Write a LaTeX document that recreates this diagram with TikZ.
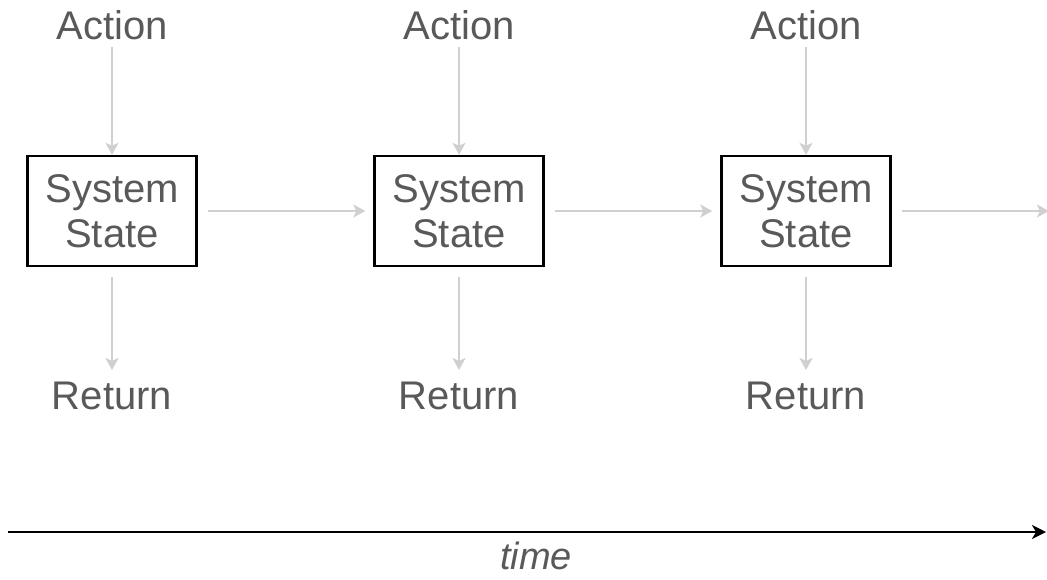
\documentclass[tikz,border=0pt]{standalone}
\usepackage{fontspec}
\setmainfont{Liberation Sans}
\usetikzlibrary{arrows.meta}
\definecolor{txt}{HTML}{595959}
\definecolor{conn}{HTML}{D0D0D0}
\begin{document}
\begin{tikzpicture}[x=1pt,y=-1pt,
  lbl/.style={text=txt,font=\fontsize{40}{44}\selectfont,inner sep=0pt},
  statebox/.style={draw=black,line width=2.4pt,minimum width=169pt,minimum height=110pt,align=center,text=txt,inner sep=0pt,font=\fontsize{40}{45}\selectfont},
  conn/.style={draw=conn,line width=2.6pt,-{Stealth[length=12pt,width=13pt,inset=3pt]}},
  tline/.style={draw=black,line width=2.4pt,-{Stealth[length=14pt,width=14pt,inset=4pt]}}]
\useasboundingbox (0,0) rectangle (1047,579);
\foreach \i/\x in {1/112,2/459,3/806}{
  \node[statebox] (s\i) at (\x,211) {System\\State};
  \node[lbl] (a\i) at (\x,25) {Action};
  \node[lbl] (r\i) at (\x,396) {Return};
  \draw[conn] (\x,47) -- (s\i.north);
  \draw[conn] (s\i.south) ++(0,10) -- (\x,370);
}
\coordinate (e) at (1049,211);
\draw[conn] ([xshift=10pt]s1.east) -- ([xshift=-8pt]s2.west);
\draw[conn] ([xshift=10pt]s2.east) -- ([xshift=-8pt]s3.west);
\draw[conn] ([xshift=10pt]s3.east) -- (e);
\coordinate (t0) at (8,532);
\coordinate (t1) at (1046,532);
\draw[tline] (t0) -- (t1);
\node[lbl,font=\fontsize{38}{44}\selectfont\itshape,anchor=base] (time) at (536,569) {time};
\end{tikzpicture}
\end{document}
